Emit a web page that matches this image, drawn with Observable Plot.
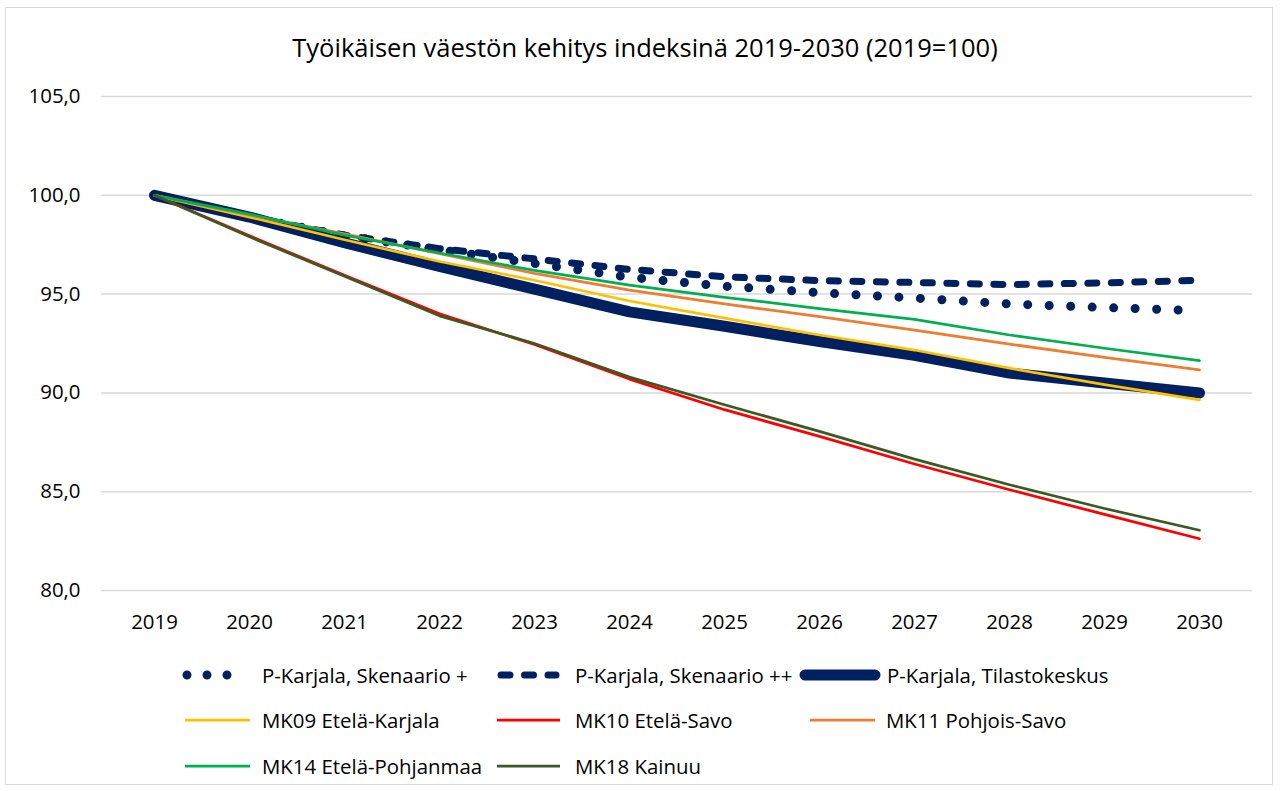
<!DOCTYPE html>
<html>
<head>
<meta charset="utf-8">
<script src="https://cdn.jsdelivr.net/npm/d3@7"></script>
<script src="https://cdn.jsdelivr.net/npm/@observablehq/plot@0.6"></script>
<style>
  html, body { margin: 0; padding: 0; background: #fff; }
  body { width: 1280px; height: 791px; position: relative; overflow: hidden; font-family: "Open Sans", sans-serif; color: #000; }
  #frame { position: absolute; left: 5px; top: 7px; width: 1268px; height: 778px; border: 1px solid #d9d9d9; box-sizing: border-box; }
  #title { position: absolute; left: 0; top: 30px; width: 1290px; text-align: center; font-size: 25.5px; line-height: 34px; }
  #chart { position: absolute; left: 0; top: 70px; }
  .lg { position: absolute; height: 30px; display: flex; align-items: center; font-size: 20.4px; white-space: nowrap; }
  .lg svg { position: absolute; left: 0; top: 0; overflow: visible; }
</style>
</head>
<body>
<div id="frame"></div>
<div id="title">Työikäisen väestön kehitys indeksinä 2019-2030 (2019=100)</div>
<div id="chart"></div>
<div id="legend"></div>
<script>
// ---- data ----
const years = [2019, 2020, 2021, 2022, 2023, 2024, 2025, 2026, 2027, 2028, 2029, 2030];
const yTicks = [80, 85, 90, 95, 100, 105];

const seriesNames = [
  "P-Karjala, Skenaario +",
  "P-Karjala, Skenaario ++",
  "P-Karjala, Tilastokeskus",
  "MK09 Etelä-Karjala",
  "MK10 Etelä-Savo",
  "MK11 Pohjois-Savo",
  "MK14 Etelä-Pohjanmaa",
  "MK18 Kainuu"
];

const skenaarioPlus     = [100, 98.9, 97.95, 97.25, 96.55, 95.85, 95.4, 95.07, 94.8, 94.5, 94.32, 94.16];
const skenaarioPlusPlus = [100, 98.9, 97.98, 97.3, 96.78, 96.25, 95.88, 95.68, 95.59, 95.48, 95.57, 95.7];
const tilastokeskus     = [100, 98.9, 97.6, 96.4, 95.25, 94.1, 93.37, 92.6, 91.9, 91.0, 90.5, 90.0];
const mk09EtelaKarjala  = [100, 98.9, 97.75, 96.65, 95.7, 94.65, 93.78, 92.93, 92.17, 91.25, 90.42, 89.65];
const mk10EtelaSavo     = [100, 97.95, 95.95, 94.0, 92.45, 90.7, 89.15, 87.8, 86.4, 85.1, 83.85, 82.62];
const mk11PohjoisSavo   = [100, 99.0, 98.05, 97.05, 96.05, 95.2, 94.5, 93.86, 93.18, 92.47, 91.8, 91.16];
const mk14EtelaPohjanmaa= [100, 99.05, 97.98, 97.08, 96.2, 95.45, 94.84, 94.27, 93.72, 92.93, 92.26, 91.63];
const mk18Kainuu        = [100, 97.9, 95.9, 93.9, 92.5, 90.8, 89.4, 88.05, 86.65, 85.35, 84.15, 83.05];

const seriesValues = [skenaarioPlus, skenaarioPlusPlus, tilastokeskus, mk09EtelaKarjala,
  mk10EtelaSavo, mk11PohjoisSavo, mk14EtelaPohjanmaa, mk18Kainuu];

// ---- styles ----
const navy = "#002060";
const styles = [
  {stroke: navy, strokeWidth: 9, strokeDasharray: "0 21.5", strokeLinecap: "round"},
  {stroke: navy, strokeWidth: 7, strokeDasharray: "9 14.5", strokeLinecap: "round"},
  {stroke: navy, strokeWidth: 11, strokeLinecap: "round"},
  {stroke: "#FFC000", strokeWidth: 2.75},
  {stroke: "#FF0000", strokeWidth: 2.75},
  {stroke: "#ED7D31", strokeWidth: 2.75},
  {stroke: "#00B050", strokeWidth: 2.75},
  {stroke: "#3B5A23", strokeWidth: 2.75}
];

const rows = seriesNames.flatMap((name, i) => years.map((year, j) => ({series: name, year, value: seriesValues[i][j]})));

const fmt = d => d.toFixed(1).replace(".", ",");

const plot = Plot.plot({
  width: 1280,
  height: 580,
  marginTop: 26,
  marginBottom: 60,
  marginLeft: 101,
  marginRight: 28,
  style: {fontFamily: "Open Sans", fontSize: "20.4px", color: "#000", background: "transparent", overflow: "visible"},
  x: {type: "point", domain: years, padding: 0.5},
  y: {domain: [80, 105]},
  marks: [
    Plot.gridY(yTicks, {stroke: "#d9d9d9", strokeOpacity: 1, strokeWidth: 1.5}),
    Plot.axisY(yTicks, {tickSize: 0, tickPadding: 21, tickFormat: fmt, label: null, fill: "#000"}),
    Plot.axisX(years, {tickSize: 0, tickPadding: 24, tickFormat: d => String(d), label: null, fill: "#000"}),
    ...seriesNames.map((name, i) => Plot.line(rows.filter(r => r.series === name), {
      x: "year", y: "value", strokeLinejoin: "round", ...styles[i]
    }))
  ]
});
document.getElementById("chart").appendChild(plot);

// ---- legend (below the SVG) ----
const legendPos = [
  {x: 185, y: 660, sx0: 2, sx1: 62, tx: 77},
  {x: 497, y: 660, sx0: 4, sx1: 59, tx: 78},
  {x: 800, y: 660, sx0: 5, sx1: 75, tx: 87},
  {x: 185, y: 705, sx0: 0, sx1: 65, tx: 77},
  {x: 497, y: 705, sx0: 0, sx1: 63, tx: 78},
  {x: 810, y: 705, sx0: 0, sx1: 65, tx: 76},
  {x: 185, y: 751, sx0: 0, sx1: 65, tx: 77},
  {x: 497, y: 751, sx0: 0, sx1: 63, tx: 78}
];
const legend = document.getElementById("legend");
seriesNames.forEach((name, i) => {
  const p = legendPos[i];
  const s = styles[i];
  const div = document.createElement("div");
  div.className = "lg";
  div.style.left = p.x + "px";
  div.style.top = p.y + "px";
  div.style.paddingLeft = p.tx + "px";
  div.innerHTML = `<svg width="${p.tx}" height="30"><line x1="${p.sx0}" x2="${p.sx1}" y1="15" y2="15" stroke="${s.stroke}" stroke-width="${s.strokeWidth}" ${s.strokeDasharray ? `stroke-dasharray="${s.strokeDasharray === "0 21.5" ? "0 20" : s.strokeDasharray}"` : ""} stroke-linecap="${s.strokeLinecap || "butt"}"/></svg><span>${name}</span>`;
  legend.appendChild(div);
});
</script>
</body>
</html>
